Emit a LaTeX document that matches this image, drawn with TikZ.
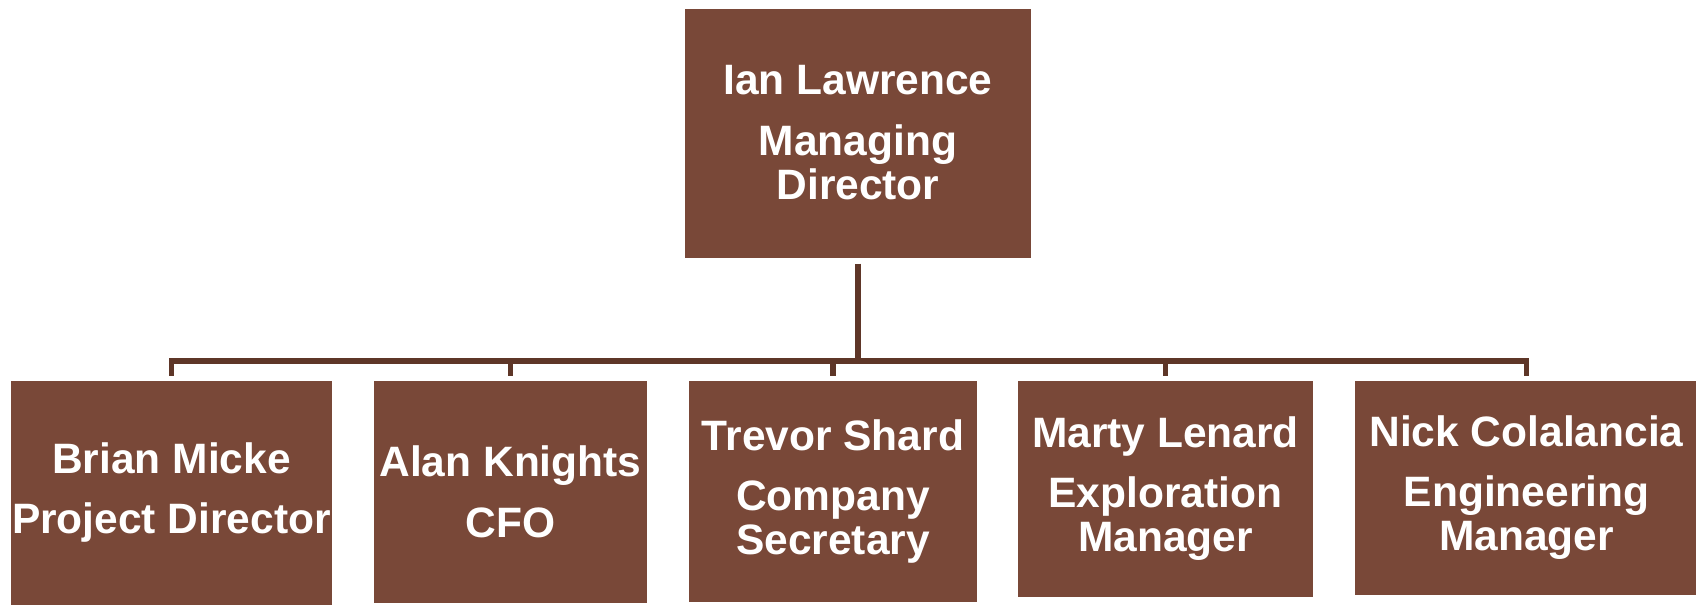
\documentclass[tikz,border=0pt]{standalone}
\usepackage{fontspec}
\setmainfont{Liberation Sans}
\definecolor{boxbrown}{RGB}{121,72,56}
\definecolor{linebrown}{RGB}{94,54,40}
\begin{document}
\begin{tikzpicture}[x=1pt,y=-1pt,
  orgbox/.style={rectangle, fill=boxbrown, draw=none, inner sep=0pt, text=white,
    align=center, font=\fontsize{42.5}{44}\selectfont\bfseries},
  conn/.style={draw=linebrown, line width=5.5pt}]
\useasboundingbox[fill=white] (0,0) rectangle (1696,605);
\node[orgbox, minimum width=346pt, minimum height=249pt] (top) at (858,133)
  {Ian Lawrence\\[17pt]Managing\\Director};
\node[orgbox, minimum width=321pt, minimum height=224pt] (c1) at (171.5,493)
  {Brian Micke\\[16pt]Project Director};
\node[orgbox, minimum width=273pt, minimum height=222pt] (c2) at (510.5,492)
  {Alan Knights\\[17pt]CFO};
\node[orgbox, minimum width=288pt, minimum height=221pt] (c3) at (833,491.5)
  {Trevor Shard\\[16pt]Company\\Secretary};
\node[orgbox, minimum width=295pt, minimum height=216pt] (c4) at (1165.5,489)
  {Marty Lenard\\[16pt]Exploration\\Manager};
\node[orgbox, minimum width=343pt, minimum height=214pt] (c5) at (1526.5,488)
  {Nick Colalancia\\[16pt]Engineering\\Manager};
\coordinate (busL) at (172,361);
\coordinate (busR) at (1526.5,361);
\draw[conn] ([yshift=-6pt]top.south) -- (top.south |- busL);
\draw[conn, line cap=rect] (busL) -- (busR);
\foreach \c in {c1,c2,c3,c4,c5}
  \draw[conn] (\c.north |- busL) -- ([yshift=5pt]\c.north);
\end{tikzpicture}
\end{document}
